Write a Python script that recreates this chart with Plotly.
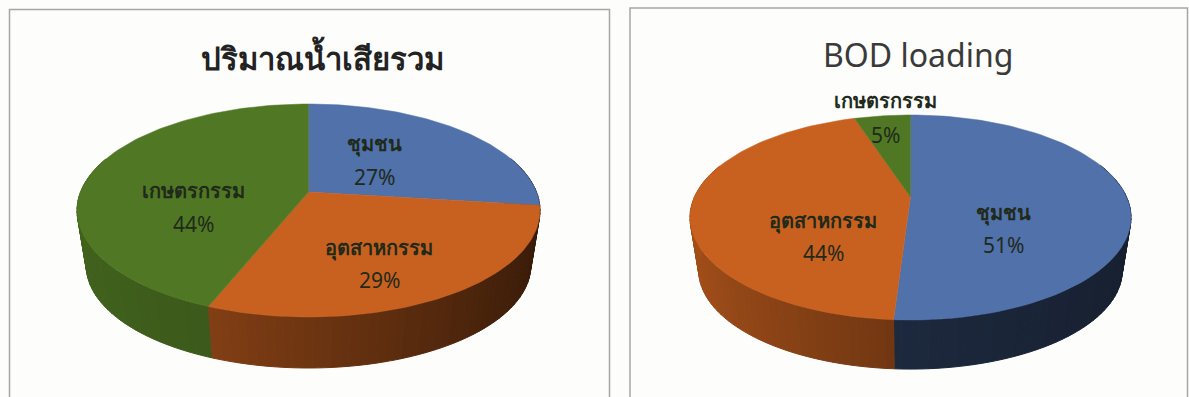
import numpy as np
import plotly.graph_objects as go

# Shares of total wastewater volume and of BOD loading, by source (percent)
wastewater_sources = ["ชุมชน", "อุตสาหกรรม", "เกษตรกรรม"]
wastewater_share = [27, 29, 44]
bod_sources = ["ชุมชน", "อุตสาหกรรม", "เกษตรกรรม"]
bod_share = [51, 44, 5]

wastewater_title = "ปริมาณน้ำเสียรวม"
bod_title = "BOD loading"

BASE = {"ชุมชน": (80, 113, 170), "อุตสาหกรรม": (200, 97, 32), "เกษตรกรรม": (80, 120, 36)}
# Wall brightness for each source at the far left and far right of the disc
WALL = {"ชุมชน": (0.44, 0.28), "อุตสาหกรรม": (0.82, 0.28), "เกษตรกรรม": (0.82, 0.60)}
INK = "#1f2a1a"
FRAME = "#a6a6a2"
FONT = "Noto Sans, DejaVu Sans, sans-serif"


def project(theta, cx, apex, rx, top, bottom, drop=0.0, scale=1.0):
    """Perspective projection of a disc; theta is clockwise from twelve o'clock."""
    up, down = apex - top, bottom - apex
    k = (down - up) / (down + up)
    a = up * (1 + k)
    b = rx * np.sqrt(1 - k * k)
    X, Y = np.sin(theta), np.cos(theta)
    w = 1 + k * Y
    return cx + scale * b * X / w, apex + drop - scale * a * Y / w


def shade(rgb, f):
    return "rgb({},{},{})".format(*[int(c * f) for c in rgb])


def add_pie(fig, names, values, geom, drop):
    total = sum(values)
    edges = np.cumsum([0] + list(values)) / total * 2 * np.pi
    # Wall first, in narrow strips so each source can darken towards the right
    order = sorted(range(len(names)), key=lambda i: -abs(np.pi - (edges[i] + edges[i + 1]) / 2))
    for i in order:
        left, right = WALL[names[i]]
        steps = np.arange(edges[i], edges[i + 1], np.radians(2.0))
        steps = np.append(steps, edges[i + 1])
        for t0, t1 in zip(steps[:-1], steps[1:]):
            mid = (t0 + t1) / 2
            if np.cos(mid) > 0.35:
                continue
            ts = np.array([t0, t1])
            xt, yt = project(ts, **geom)
            xb, yb = project(ts[::-1], drop=drop, scale=0.96, **geom)
            f = left + (right - left) * (np.sin(mid) + 1) / 2
            col = shade(BASE[names[i]], f)
            fig.add_trace(go.Scatter(
                x=np.r_[xt, xb, xt[0]], y=np.r_[yt, yb, yt[0]], mode="lines",
                fill="toself", fillcolor=col, line=dict(color=col, width=1),
                hoverinfo="skip", showlegend=False))
    # Top face of each slice
    for i, name in enumerate(names):
        ts = np.linspace(edges[i], edges[i + 1], 90)
        x, y = project(ts, **geom)
        col = shade(BASE[name], 1.0)
        fig.add_trace(go.Scatter(
            x=np.r_[geom["cx"], x, geom["cx"]], y=np.r_[geom["apex"], y, geom["apex"]],
            mode="lines", fill="toself", fillcolor=col, line=dict(color=col, width=0.5),
            hovertemplate=f"{name}: {values[i]}%<extra></extra>", showlegend=False))


LEFT = dict(cx=308.5, apex=192, rx=231.5, top=104, bottom=317)
RIGHT = dict(cx=910.5, apex=197, rx=220.5, top=115, bottom=320)

fig = go.Figure()
add_pie(fig, wastewater_sources, wastewater_share, LEFT, drop=56)
add_pie(fig, bod_sources, bod_share, RIGHT, drop=54)

# Panel frames run off the bottom edge of the page
for x0, x1, y0 in ((9.5, 609.5, 9.5), (630, 1187.5, 8)):
    fig.add_shape(type="path", path=f"M{x0},397 L{x0},{y0} L{x1},{y0} L{x1},397",
                  line=dict(color=FRAME, width=1.5), xref="x", yref="y", layer="below")


def add_labels(names, values, spots):
    for name, value in zip(names, values):
        lx, ly, py = spots[name]
        fig.add_annotation(x=lx, y=ly, text=f"<b>{name}</b>", showarrow=False,
                           font=dict(family=FONT, size=20, color=INK))
        fig.add_annotation(x=lx, y=py, text=f"{value}%", showarrow=False,
                           font=dict(family=FONT, size=21, color=INK))


add_labels(wastewater_sources, wastewater_share,
           {"ชุมชน": (374, 143, 177), "อุตสาหกรรม": (379, 247, 280), "เกษตรกรรม": (193, 190, 224)})
add_labels(bod_sources, bod_share,
           {"ชุมชน": (1003, 212, 245), "อุตสาหกรรม": (823, 220, 253), "เกษตรกรรม": (885, 100, 135)})

fig.add_annotation(x=322.5, y=57, text=f"<b>{wastewater_title}</b>", showarrow=False,
                   font=dict(family=FONT, size=31, color="#222222"))
fig.add_annotation(x=917.5, y=54.5, text=bod_title, showarrow=False,
                   font=dict(family=FONT, size=32, color="#3a3a3a"))

fig.update_layout(
    width=1189, height=397, margin=dict(l=0, r=0, t=0, b=0),
    paper_bgcolor="#fdfdfb", plot_bgcolor="#fdfdfb",
    xaxis=dict(range=[0, 1189], visible=False, fixedrange=True),
    yaxis=dict(range=[397, 0], visible=False, fixedrange=True),
)
fig.write_html("out.html", config=dict(displayModeBar=False))
